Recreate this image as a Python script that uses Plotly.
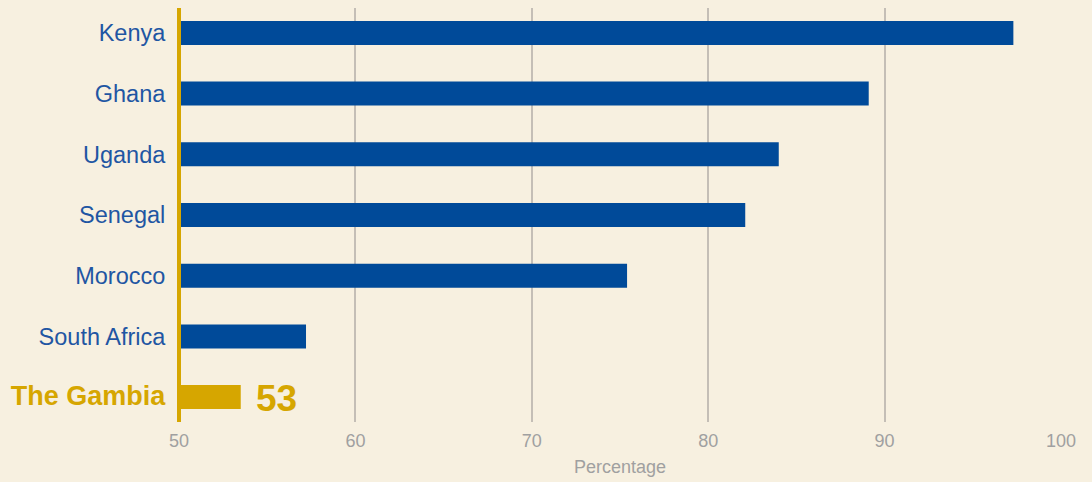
import plotly.graph_objects as go

countries = ["The Gambia", "South Africa", "Morocco", "Senegal", "Uganda", "Ghana", "Kenya"]
values = [53.5, 57.2, 75.4, 82.1, 84.0, 89.1, 97.3]
labels_shown = ["53", "", "", "", "", "", ""]
x_ticks = [50, 60, 70, 80, 90, 100]

BLUE = "#004a99"
GOLD = "#d6a600"
BG = "#f7f0e0"

colors = [GOLD if c == "The Gambia" else BLUE for c in countries]
ticktext = []
for c in countries:
    if c == "The Gambia":
        ticktext.append(f"<b><span style='color:{GOLD};font-size:27px'>{c}</span></b>")
    else:
        ticktext.append(f"<span style='color:#1f56a3'>{c}</span>")

fig = go.Figure()
fig.add_trace(go.Bar(
    y=countries, x=[v - 50 for v in values], base=50, orientation="h",
    marker=dict(color=colors, line=dict(width=0)), width=0.395,
    hoverinfo="skip",
))
for c, v, t in zip(countries, values, labels_shown):
    if t:
        fig.add_annotation(x=v, y=c, text=f"<b>{t}</b>", showarrow=False,
                           xanchor="left", xshift=13, yshift=-1,
                           font=dict(family="Liberation Sans", size=37, color=GOLD))
# gold baseline at the left edge of the plot (x = 50)
fig.add_shape(type="line", xref="paper", yref="paper", x0=0, x1=0, y0=0, y1=1,
              layer="above", line=dict(color=GOLD, width=4))
fig.update_layout(
    width=1092, height=482,
    margin=dict(l=179, r=31, t=8, b=60),
    paper_bgcolor=BG, plot_bgcolor=BG,
    showlegend=False,
    font=dict(family="Liberation Sans"),
    xaxis=dict(range=[50, 100], tickvals=x_ticks, showgrid=True, gridcolor="#c4beb6", gridwidth=1.5,
               zeroline=False, showline=False, ticks="outside", ticklen=2, tickcolor="rgba(0,0,0,0)",
               tickfont=dict(size=18, color="#a0a0a0"),
               title=dict(text="Percentage", font=dict(size=18, color="#a0a0a0"), standoff=10)),
    yaxis=dict(type="category", categoryorder="array", categoryarray=countries,
               tickvals=countries, ticktext=ticktext, range=[-0.41, 6.41],
               showgrid=False, zeroline=False, showline=False,
               ticks="outside", ticklen=8, tickcolor="rgba(0,0,0,0)",
               tickfont=dict(size=23.5)),
)
fig.write_html("out.html", config={"displayModeBar": False},
               post_script="document.body.style.margin='0';document.body.style.background='#f7f0e0';")
